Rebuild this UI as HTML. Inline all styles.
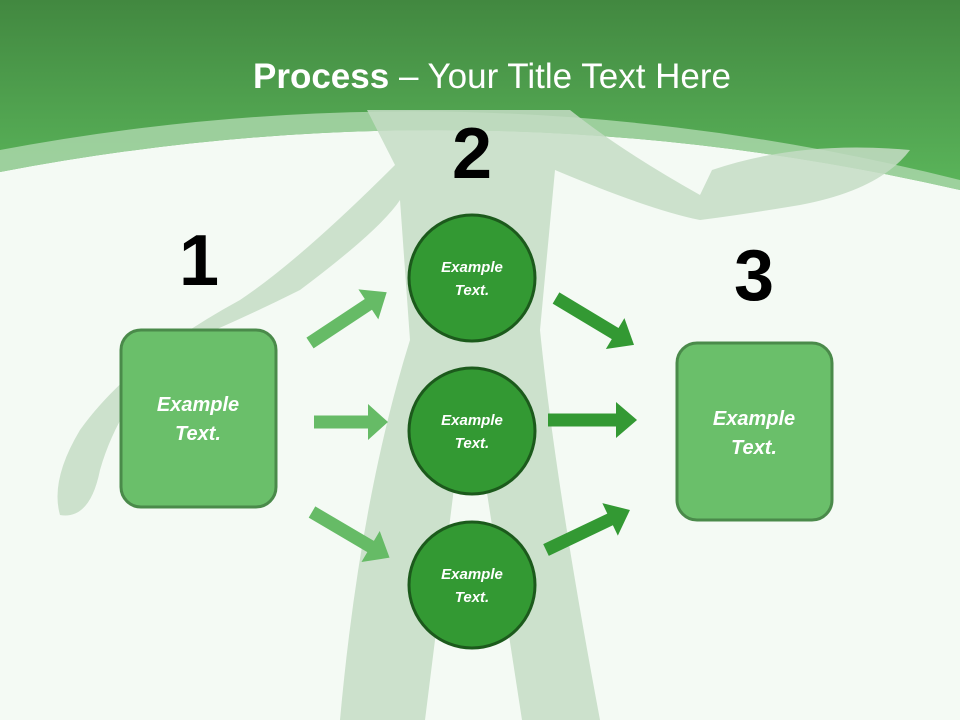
<!DOCTYPE html>
<html><head><meta charset="utf-8"><style>
html,body{margin:0;padding:0;width:960px;height:720px;overflow:hidden;background:#f4faf4}
svg text{font-family:"Liberation Sans",sans-serif}
</style></head><body>
<svg width="960" height="720" viewBox="0 0 960 720" xmlns="http://www.w3.org/2000/svg">
<defs>
<linearGradient id="hg" x1="0" y1="0" x2="0" y2="1">
<stop offset="0" stop-color="#428840"/><stop offset="1" stop-color="#5cb85c"/>
</linearGradient>
</defs>
<rect width="960" height="720" fill="#f4faf4"/>
<rect width="960" height="200" fill="url(#hg)"/>
<path d="M0,172 Q480,80 960,190 L960,720 L0,720Z" fill="#f4faf4"/>
<path d="M0,150 Q480,60 960,180 L960,190 Q480,80 0,172Z" fill="#a9d6a9" opacity="0.85"/>
<!-- figure -->
<g fill="#c4dcc4" opacity="0.85">
<path d="M367,110 L570,110 Q620,150 700,195 L712,170 Q800,140 910,150 Q880,190 800,205 Q740,215 700,220 Q650,210 555,170 L540,330 Q555,480 600,720 L522,720 L485,480 Q470,480 455,480 L425,720 L340,720 Q360,500 410,340 L400,200 Q380,230 300,290 Q240,320 180,345 Q120,400 100,470 Q90,520 60,515 Q50,480 80,430 Q130,360 240,300 Q300,260 395,165Z"/>
</g>
<text x="492" y="88" text-anchor="middle" fill="#fff" font-size="35"><tspan font-weight="bold">Process</tspan> – Your Title Text Here</text>
<g font-weight="bold" font-size="72" fill="#000" text-anchor="middle">
<text x="199" y="285">1</text><text x="472" y="178">2</text><text x="754" y="300">3</text>
</g>
<g fill="#66bb66">
<path transform="translate(310,343) rotate(-33.5)" d="M0,-6.5 L70,-6.5 L70,-18 L92,0 L70,18 L70,6.5 L0,6.5Z"/>
<path transform="translate(314,422)" d="M0,-6.5 L54,-6.5 L54,-18 L74,0 L54,18 L54,6.5 L0,6.5Z"/>
<path transform="translate(312,512) rotate(30.5)" d="M0,-6.5 L68,-6.5 L68,-18 L90,0 L68,18 L68,6.5 L0,6.5Z"/>
</g>
<g fill="#339933">
<path transform="translate(556,298) rotate(31)" d="M0,-6.5 L69,-6.5 L69,-18 L91,0 L69,18 L69,6.5 L0,6.5Z"/>
<path transform="translate(548,420)" d="M0,-6.5 L68,-6.5 L68,-18 L89,0 L68,18 L68,6.5 L0,6.5Z"/>
<path transform="translate(546,550) rotate(-25.5)" d="M0,-6.5 L71,-6.5 L71,-18 L93,0 L71,18 L71,6.5 L0,6.5Z"/>
</g>
<rect x="121" y="330" width="155" height="177" rx="20" fill="#6abf6a" stroke="#4a8a4a" stroke-width="3"/>
<rect x="677" y="343" width="155" height="177" rx="20" fill="#6abf6a" stroke="#4a8a4a" stroke-width="3"/>
<g fill="#339933" stroke="#1c5a1c" stroke-width="3">
<circle cx="472" cy="278" r="63"/><circle cx="472" cy="431" r="63"/><circle cx="472" cy="585" r="63"/>
</g>
<g fill="#fff" font-weight="bold" font-style="italic" text-anchor="middle">
<text x="198" y="411" font-size="20">Example</text><text x="198" y="440" font-size="20">Text.</text>
<text x="754" y="425" font-size="20">Example</text><text x="754" y="454" font-size="20">Text.</text>
<text x="472" y="272" font-size="15">Example</text><text x="472" y="295" font-size="15">Text.</text>
<text x="472" y="425" font-size="15">Example</text><text x="472" y="448" font-size="15">Text.</text>
<text x="472" y="579" font-size="15">Example</text><text x="472" y="602" font-size="15">Text.</text>
</g>
</svg>
</body></html>
